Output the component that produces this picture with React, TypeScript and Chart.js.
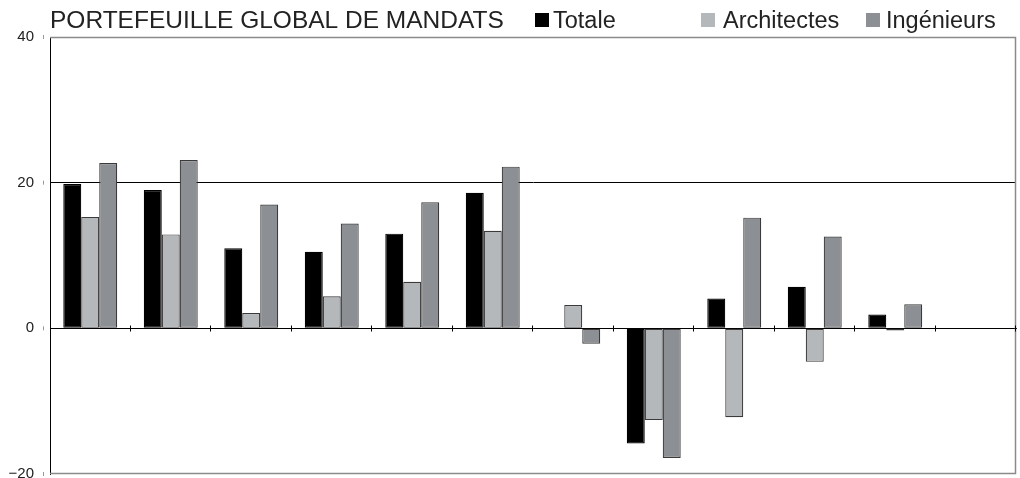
import React, { useEffect, useRef } from "react";
import { Chart, registerables } from "chart.js";

Chart.register(...registerables);

const categories = ["1", "2", "3", "4", "5", "6", "7", "8", "9", "10", "11", "12"];
const totale = [19.8, 19.0, 11.0, 10.5, 13.0, 18.6, 0, -15.8, 4.1, 5.7, 1.9, null];
const architectes = [15.3, 12.9, 2.1, 4.4, 6.4, 13.4, 3.2, -12.6, -12.2, -4.6, -0.3, null];
const ingenieurs = [22.7, 23.1, 17.0, 14.4, 17.3, 22.2, -2.1, -17.8, 15.2, 12.6, 3.3, null];
const yTicks = [-20, 0, 20, 40];
const seriesNames = ["Totale", "Architectes", "Ingénieurs"];
const seriesColors = ["#000000", "#b5b8bb", "#8c8f93"];
const titleText = "PORTEFEUILLE GLOBAL DE MANDATS";

const FONT = '"Liberation Sans", Arial, sans-serif';

const framePlugin = {
  id: "frame",
  beforeDatasetsDraw(chart: any) {
    const { ctx, chartArea } = chart;
    const { left, right, top, bottom } = chartArea;
    ctx.save();
    ctx.strokeStyle = "#8a8a8a";
    ctx.lineWidth = 1.5;
    ctx.beginPath();
    ctx.moveTo(left, top + 0.5);
    ctx.lineTo(right - 0.5, top + 0.5);
    ctx.lineTo(right - 0.5, bottom - 0.5);
    ctx.lineTo(left, bottom - 0.5);
    ctx.stroke();
    const y = chart.scales.y;
    ctx.strokeStyle = "#999";
    ctx.lineWidth = 1;
    yTicks.forEach((v) => {
      const py = y.getPixelForValue(v);
      ctx.beginPath();
      ctx.moveTo(left - 6.5, py - 2);
      ctx.lineTo(left - 6.5, py + 2);
      ctx.stroke();
    });
    // category boundary tick marks crossing the zero line
    const x = chart.scales.x;
    const y0 = Math.round(y.getPixelForValue(0)) + 0.5;
    const n = categories.length;
    const half = (x.getPixelForValue(1) - x.getPixelForValue(0)) / 2;
    ctx.strokeStyle = "#000";
    for (let i = 0; i < n; i++) {
      const px = Math.round(x.getPixelForValue(i) + half) - 0.5;
      ctx.beginPath();
      ctx.moveTo(px, y0 - 3);
      ctx.lineTo(px, y0 + 3);
      ctx.stroke();
    }
    ctx.restore();
  },
  afterDraw(chart: any) {
    const { ctx } = chart;
    ctx.save();
    ctx.fillStyle = "#222";
    ctx.textBaseline = "alphabetic";
    ctx.font = `24.5px ${FONT}`;
    ctx.fillText(titleText, 50, 28);
    ctx.font = `23.5px ${FONT}`;
    const sq = [535, 701, 866];
    const tx = [553, 723, 886];
    seriesNames.forEach((n, i) => {
      ctx.fillStyle = seriesColors[i];
      ctx.fillRect(sq[i], 13, 14, 14);
      ctx.fillStyle = "#222";
      ctx.fillText(n, tx[i], 28);
    });
    ctx.restore();
  },
};

export default function App() {
  const ref = useRef<HTMLCanvasElement | null>(null);
  useEffect(() => {
    if (!ref.current) return;
    const ds = [totale, architectes, ingenieurs].map((d, i) => ({
      label: seriesNames[i],
      data: d,
      backgroundColor: seriesColors[i],
      borderColor: i === 0 ? "#000" : "#3a3a3a",
      borderWidth: 1.2,
      borderSkipped: false,
      categoryPercentage: 0.67,
      barPercentage: 1.0,
    }));
    const chart = new Chart(ref.current, {
      type: "bar",
      data: { labels: categories, datasets: ds as any },
      plugins: [framePlugin],
      options: {
        animation: false,
        responsive: false,
        maintainAspectRatio: false,
        layout: { padding: { left: 0, right: 4, top: 37, bottom: 4 } },
        plugins: { legend: { display: false }, title: { display: false }, tooltip: { enabled: false } },
        scales: {
          x: {
            type: "category",
            position: { y: 0 } as any,
            offset: true,
            afterFit: (s: any) => {
              s.height = 0;
            },
            grid: {
              offset: true,
              display: false,
            },
            border: { display: true, color: "#000", width: 1 },
            ticks: { display: false },
          },
          y: {
            min: -20,
            max: 40,
            afterFit: (s: any) => {
              s.width = 50;
              s.paddingTop = 0;
              s.paddingBottom = 0;
            },
            afterBuildTicks: (s: any) => {
              s.ticks = yTicks.map((v) => ({ value: v }));
            },
            grid: {
              drawTicks: false,
              color: (c: any) => (c.tick && (c.tick.value === 20 || c.tick.value === 0) ? "#000" : "rgba(0,0,0,0)"),
            },
            border: { display: true, color: "#000", width: 1 },
            ticks: {
              padding: 16,
              color: "#222",
              font: { family: FONT, size: 15 },
              callback: (v: any) => (Number(v) < 0 ? "\u2212" + Math.abs(Number(v)) : String(v)),
            },
          },
        },
      },
    });
    return () => chart.destroy();
  }, []);
  return (
    <div style={{ position: "absolute", left: 0, top: 0, width: 1020, height: 478, background: "#fff" }}>
      <canvas ref={ref} width={1020} height={478} style={{ width: 1020, height: 478 }} />
    </div>
  );
}
